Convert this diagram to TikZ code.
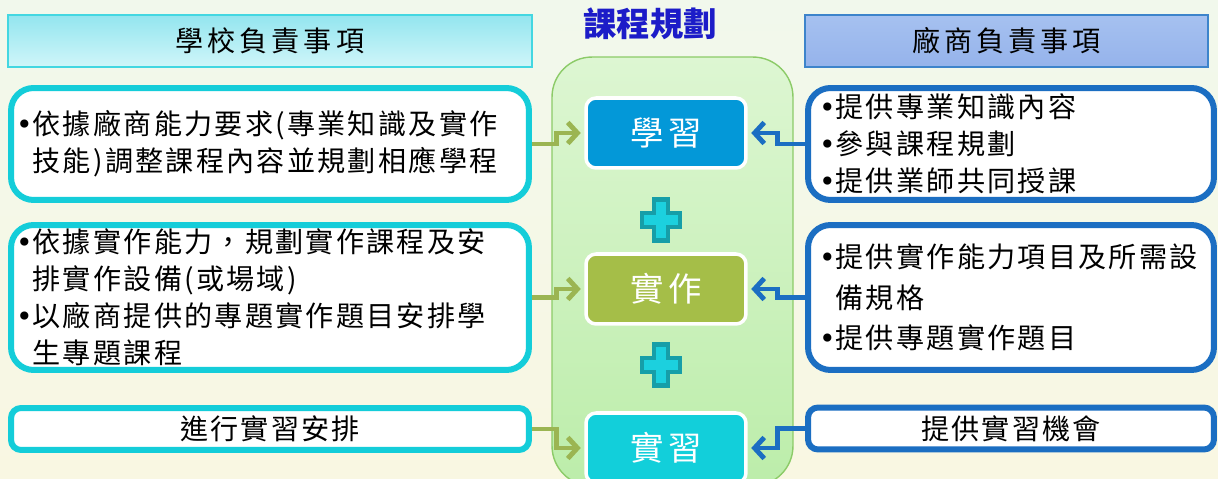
\documentclass[tikz,border=0pt]{standalone}
\usepackage{fontspec}
\setmainfont{Noto Sans CJK TC}
\newfontfamily\bodyfont[LetterSpace=8]{Noto Sans CJK TC}
\newfontfamily\headfont[LetterSpace=14]{Noto Sans CJK TC}
\newfontfamily\stagefont[LetterSpace=14]{Noto Sans CJK TC}
\newfontfamily\dotfont{DejaVu Sans}
\usetikzlibrary{arrows.meta,positioning}

\definecolor{bgtop}{HTML}{F1F8EC}
\definecolor{bgbottom}{HTML}{F9F7E2}
\definecolor{schcyan}{HTML}{14CDD9}
\definecolor{firmblue}{HTML}{1B6EC2}
\definecolor{linkgreen}{HTML}{9BB552}
\definecolor{titleblue}{HTML}{1C1CC8}
\definecolor{learnblue}{HTML}{0398D8}
\definecolor{pracolive}{HTML}{A5BE48}
\definecolor{interncyan}{HTML}{12CFDA}
\definecolor{pluscyan}{HTML}{1CD0DE}
\definecolor{plusteal}{HTML}{169EA8}
\definecolor{panelline}{HTML}{8CCB68}
\definecolor{paneltop}{HTML}{DDF6D2}
\definecolor{panelbottom}{HTML}{BCEDAA}
\definecolor{schheadtop}{HTML}{93E5EF}
\definecolor{schheadbottom}{HTML}{D0F6F9}
\definecolor{firmheadtop}{HTML}{A6C1F0}
\definecolor{firmheadmid}{HTML}{7D9FE0}
\definecolor{firmheadbottom}{HTML}{95B3EB}

\newcommand{\bul}{{\dotfont\fontsize{16pt}{16pt}\selectfont •}}
\newcommand{\ind}{\hspace*{0pt}\phantom{\bul}}

\begin{document}
\begin{tikzpicture}[x=0.02cm,y=-0.02cm,
	box/.style={draw,fill=white,line width=0.12cm,rounded corners=0.45cm,align=left,
		font=\bodyfont\fontsize{16pt}{21pt}\selectfont},
	schoolbox/.style={box,draw=schcyan,text width=10.16cm,inner xsep=0.1cm,inner ysep=0pt},
	firmbox/.style={box,draw=firmblue,text width=7.68cm,inner xsep=0.22cm,inner ysep=0pt},
	shortbox/.style={box,rounded corners=0.2cm,align=center,minimum height=0.84cm,inner sep=0pt},
	header/.style={draw,line width=0.8pt,minimum height=1.04cm,
		font=\headfont\fontsize{16pt}{18pt}\selectfont},
	stage/.style={draw=white,line width=2pt,rounded corners=0.2cm,minimum width=3.2cm,
		minimum height=1.4cm,text=white,font=\stagefont\fontsize{19pt}{21pt}\selectfont},
	gconn/.style={draw=linkgreen,line width=2.8pt,-{Straight Barb[length=5.5pt,width=12pt]},shorten >=2pt},
	bconn/.style={gconn,draw=firmblue},
	plusmark/.style={fill=pluscyan,draw=plusteal,line width=2.8pt},
	plussign/.pic={
		\draw[plusmark] (-7,-20.5) -- (7,-20.5) -- (7,-7) -- (19,-7) -- (19,7) -- (7,7)
			-- (7,20.5) -- (-7,20.5) -- (-7,7) -- (-19,7) -- (-19,-7) -- (-7,-7) -- cycle;
	}
]
	\useasboundingbox (0,0) rectangle (1218,479);
	\clip (0,0) rectangle (1218,479);
	\shade[top color=bgtop,bottom color=bgbottom] (0,0) rectangle (1218,479);

	\node[draw=panelline,line width=0.8pt,rounded corners=0.8cm,top color=paneltop,
		bottom color=panelbottom,minimum width=4.82cm,minimum height=8.58cm] (planbox) at (672.5,271.5) {};
	\node[text=titleblue,font=\bfseries\fontsize{19pt}{21pt}\selectfont] (plan) at (650,24) {課程規劃};

	\node[header,draw=schcyan!80!white,top color=schheadtop,bottom color=schheadbottom,
		minimum width=10.48cm] (schoolhead) at (270,41) {學校負責事項};
	\node[header,draw=firmblue!85!white,top color=firmheadtop,middle color=firmheadmid,
		bottom color=firmheadbottom,minimum width=8.06cm] (firmhead) at (1006.5,41) {廠商負責事項};

	\node[stage,fill=learnblue] (learn) at (666,133) {學習};
	\node[stage,fill=pracolive] (prac) at (666,289) {實作};
	\node[stage,fill=interncyan] (intern) at (666,448) {實習};
	\pic at (661,220) {plussign};
	\pic at (661,365) {plussign};

	\node[schoolbox,minimum height=2.24cm] (lone) at (270,144)
		{\bul 依據廠商能力要求(專業知識及實作\\\ind 技能)調整課程內容並規劃相應學程};
	\node[schoolbox,minimum height=2.9cm] (ltwo) at (270,297.5)
		{\bul 依據實作能力，規劃實作課程及安\\\ind 排實作設備(或場域)\\\bul 以廠商提供的專題實作題目安排學\\\ind 生專題課程};
	\node[shortbox,draw=schcyan,minimum width=10.36cm] (lthree) at (270,429) {進行實習安排};

	\node[firmbox,minimum height=2.24cm] (rone) at (1011,144)
		{\bul 提供專業知識內容\\\bul 參與課程規劃\\\bul 提供業師共同授課};
	\node[firmbox,minimum height=2.9cm,font=\bodyfont\fontsize{16pt}{23pt}\selectfont] (rtwo) at (1011,297.5)
		{\bul 提供實作能力項目及所需設\\\ind 備規格\\\bul 提供專題實作題目};
	\node[shortbox,draw=firmblue,minimum width=8.12cm] (rthree) at (1011,428.5) {提供實習機會};

	\draw[gconn] (lone.east) -- ++(25,0) |- (learn.west);
	\draw[gconn] (ltwo.east) -- ++(25,0) |- (prac.west);
	\draw[gconn] (lthree.east) -- ++(25,0) |- (intern.west);
	\draw[bconn] (rone.west) -- ++(-28,0) |- (learn.east);
	\draw[bconn] (rtwo.west) -- ++(-28,0) |- (prac.east);
	\draw[bconn] (rthree.west) -- ++(-28,0) |- (intern.east);
\end{tikzpicture}
\end{document}
